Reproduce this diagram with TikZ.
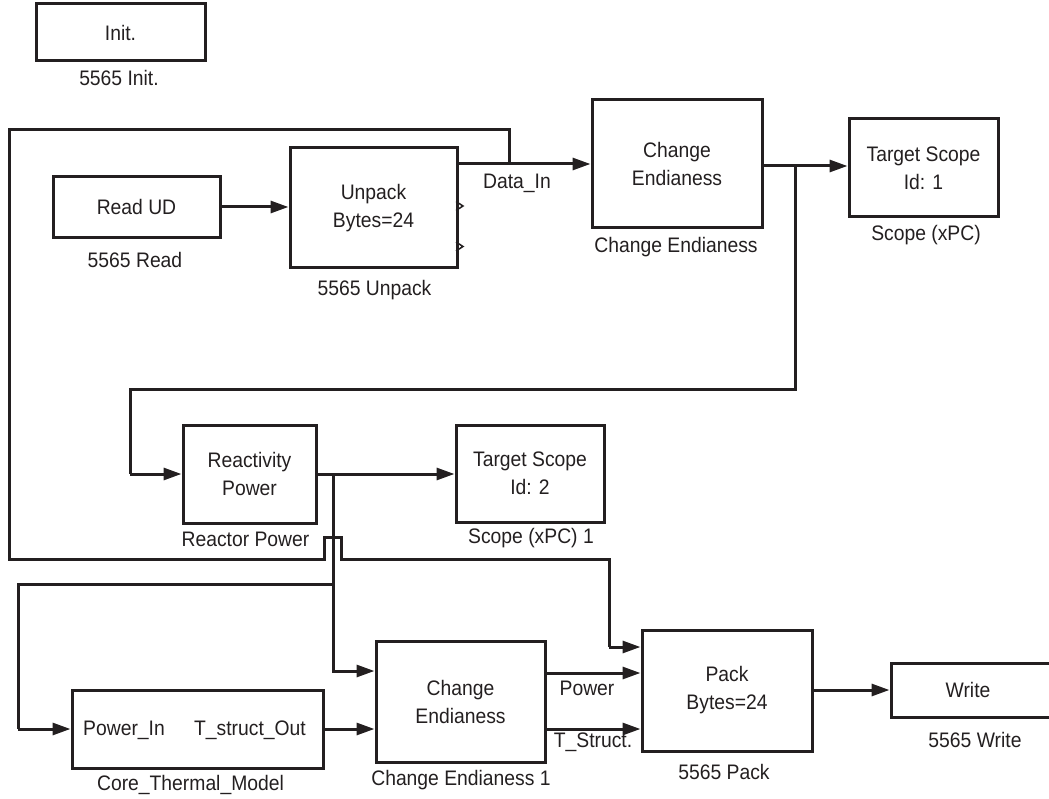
\documentclass[tikz,border=0pt]{standalone}
\usepackage{fontspec}
\setmainfont{Liberation Sans}[FakeStretch=0.92]
\usetikzlibrary{arrows.meta,calc}
\definecolor{ink}{HTML}{231F20}
\begin{document}
\begin{tikzpicture}[x=1pt,y=-1pt,
  every node/.style={font=\fontsize{21}{28}\selectfont, inner sep=0pt, text=ink},
  blk/.style={draw=ink, line width=3pt, align=center},
  lab/.style={anchor=center},
  wire/.style={draw=ink, line width=3pt},
  arr/.style={wire, -{Triangle[length=18pt,width=12pt]}},
  chev/.style={draw=ink, line width=1.5pt}
  ]
\useasboundingbox (0,0) rectangle (1049,799);

% blocks
\node[blk, minimum width=169pt, minimum height=57pt] (init) at (120.5,32.5) {Init.};
\node[blk, minimum width=167pt, minimum height=61pt] (read) at (136.5,207) {Read UD};
\node[blk, minimum width=167pt, minimum height=120pt] (unpack) at (373.5,208) {Unpack\\Bytes=24};
\node[blk, minimum width=170pt, minimum height=128pt] (ce) at (677,164) {Change\\Endianess};
\node[blk, minimum width=149pt, minimum height=98pt] (ts1) at (923.5,168) {Target Scope\\Id: 1};
\node[blk, minimum width=133pt, minimum height=98pt] (rp) at (249.5,474) {Reactivity\\Power};
\node[blk, minimum width=148pt, minimum height=97pt] (ts2) at (530,473.5) {Target Scope\\Id: 2};
\node[blk, minimum width=251pt, minimum height=78pt] (core) at (197.5,729) {};
\node[blk, minimum width=169pt, minimum height=121pt] (ce1) at (460.5,701.5) {Change\\Endianess};
\node[blk, minimum width=170pt, minimum height=121pt] (pack) at (727,690.5) {Pack\\Bytes=24};
\node[blk, minimum width=170pt, minimum height=54pt] (write) at (976,690) {Write\hspace{16pt}};

% texts inside core model
\node[lab] (pin) at (124,730) {Power\_In};
\node[lab] (tso) at (250,730) {T\_struct\_Out};

% block captions
\node[lab] (linit) at (119,78) {5565 Init.};
\node[lab] (lread) at (135,260) {5565 Read};
\node[lab] (lunpack) at (374.5,290) {5565 Unpack};
\node[lab] (lce) at (676,247) {Change Endianess};
\node[lab] (lts1) at (926,235) {Scope (xPC)};
\node[lab] (lrp) at (245.5,539) {Reactor Power};
\node[lab] (lts2) at (531,538) {Scope (xPC) 1};
\node[lab] (lcore) at (190.5,785) {Core\_Thermal\_Model};
\node[lab] (lce1) at (461,780) {Change Endianess 1};
\node[lab] (lpack) at (724,772) {5565 Pack};
\node[lab] (lwrite) at (975,740) {5565 Write};

% wire labels
\node[lab] (wdata) at (517,183) {Data\_In};
\node[lab] (wpow) at (587,688) {Power};
\node[lab] (wts) at (593,742) {T\_Struct.};

% port chevrons on unpack
\draw[chev] (456,201.5) -- (463,206) -- (456,210.5);
\draw[chev] (456,242) -- (463,246.5) -- (456,251);

% junction coordinates
\coordinate (j1) at (509,164);
\coordinate (j2) at (795,166);
\coordinate (j3) at (333,474);
\coordinate (j4) at (333,584);

% connectors
\draw[arr] (read.east) -- (read.east -| unpack.west);
\draw[arr] (unpack.east |- ce.west) -- (ce.west);
\draw[wire] (j1) -- (509,130) -- (9,130) -- (9,559) -- (324,559) -- (324,537) -- (341,537) -- (341,559) -- (609,559) -- (609,647);
\draw[arr] (609,647) -- (pack.west |- 0,647);

\draw[arr] (ce.east |- j2) -- (j2 -| ts1.west);
\draw[wire] (j2) -- (795,389) -- (130,389) -- (130,474);
\draw[arr] (130,474) -- (rp.west);

\draw[arr] (rp.east) -- (rp.east -| ts2.west);
\draw[wire] (j3) -- (j4);
\draw[arr] (j4) -- (333,671) -- (ce1.west |- 0,671);
\draw[wire] (j4) -- (18,584) -- (18,729);
\draw[arr] (18,729) -- (core.west);
\draw[arr] (core.east) -- (core.east -| ce1.west);

\draw[arr] (ce1.east |- 0,673) -- (pack.west |- 0,673);
\draw[arr] (ce1.east |- 0,729) -- (pack.west |- 0,729);
\draw[arr] (pack.east |- write.west) -- (write.west);
\end{tikzpicture}
\end{document}
